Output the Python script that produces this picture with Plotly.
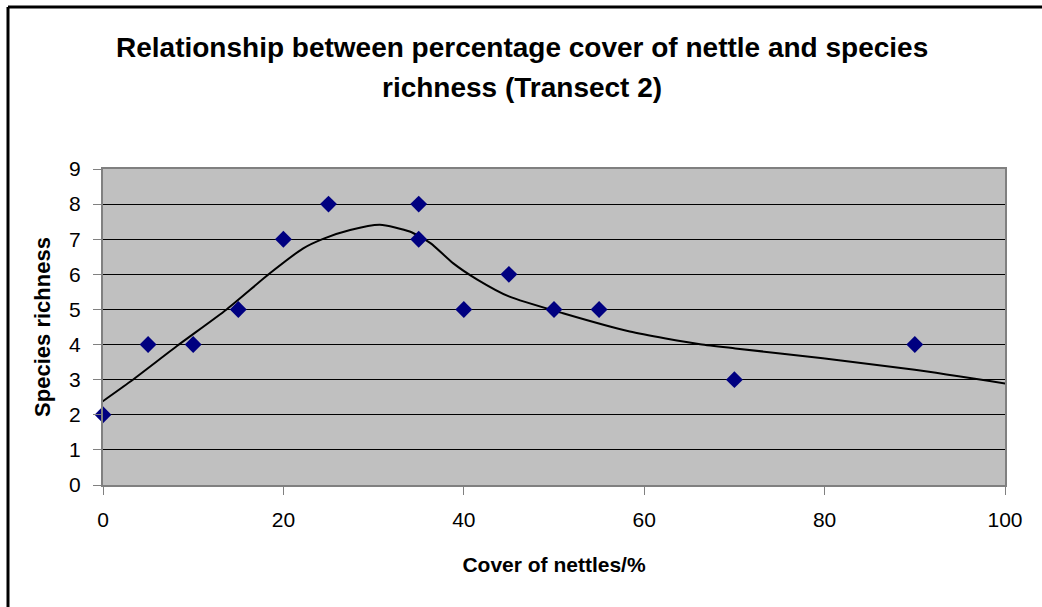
import plotly.graph_objects as go

# Quadrat survey: percentage nettle cover vs number of species
cover_pct = [0, 5, 10, 15, 20, 25, 35, 35, 40, 45, 50, 55, 70, 90]
species_richness = [2, 4, 4, 5, 7, 8, 8, 7, 5, 6, 5, 5, 3, 4]

# Hand-fitted trend curve through the scatter
trend_x = [-1.1, 3.0, 8.2, 13.7, 18.5, 22.2, 24.4, 27.4, 30.7, 34.0, 36.3,
           38.8, 41.5, 45.0, 51.0, 58.4, 66.2, 70.1, 79.8, 90.0, 100.3]
trend_y = [2.19, 2.94, 3.96, 5.0, 6.03, 6.74, 7.01, 7.26, 7.41, 7.22, 6.89,
           6.32, 5.85, 5.37, 4.89, 4.37, 4.01, 3.89, 3.61, 3.28, 2.88]

x_ticks = [0, 20, 40, 60, 80, 100]
y_ticks = [0, 1, 2, 3, 4, 5, 6, 7, 8, 9]

title_lines = ["Relationship between percentage cover of nettle and species",
               "richness (Transect 2)"]

FONT = "Liberation Sans, Arial, sans-serif"

fig = go.Figure()
fig.add_trace(go.Scatter(
    x=trend_x, y=trend_y, mode="lines",
    line=dict(color="black", width=2, shape="spline", smoothing=0.6),
    hoverinfo="skip", showlegend=False,
))
fig.add_trace(go.Scatter(
    x=cover_pct, y=species_richness, mode="markers",
    marker=dict(symbol="diamond", size=13, color="#000080",
                line=dict(width=0)),
    cliponaxis=False, showlegend=False,
))

W, H = 1042, 607
L, R, T, B = 103, 37, 169, 122
pw, ph = W - L - R, H - T - B

def px_x(p):
    return (p - L) / pw

def px_y(p):
    return (H - B - p) / ph

# Title lines as separate annotations for wider line spacing
for txt, ypix in zip(title_lines, [48, 88]):
    fig.add_annotation(
        text=f"<b>{txt}</b>", xref="paper", yref="paper",
        x=px_x(522), y=px_y(ypix), xanchor="center", yanchor="middle",
        showarrow=False, font=dict(family=FONT, size=28, color="black"),
    )

# Chart-area frame (left and top edges visible)
fig.add_shape(type="line", xref="paper", yref="paper",
              x0=px_x(8), x1=px_x(1045), y0=px_y(7), y1=px_y(7),
              line=dict(color="black", width=3))
fig.add_shape(type="line", xref="paper", yref="paper",
              x0=px_x(8), x1=px_x(8), y0=px_y(7), y1=px_y(610),
              line=dict(color="black", width=3))

fig.update_layout(
    width=W, height=H,
    margin=dict(l=L, r=R, t=T, b=B),
    paper_bgcolor="white", plot_bgcolor="#C0C0C0",
    font=dict(family=FONT, size=21, color="black"),
    showlegend=False,
)
fig.update_xaxes(
    range=[0, 100], tickvals=x_ticks, showgrid=False, zeroline=False,
    showline=True, linecolor="#808080", linewidth=2, mirror=True,
    ticks="outside", ticklen=8, tickcolor="#808080", tickwidth=1,
    tickfont=dict(size=21), ticklabelstandoff=7,
    title=dict(text="<b>Cover of nettles/%</b>", font=dict(size=21), standoff=27),
)
fig.update_yaxes(
    range=[0, 9], tickvals=y_ticks, showgrid=True, gridcolor="black",
    gridwidth=1, zeroline=False,
    showline=True, linecolor="#808080", linewidth=2, mirror=True,
    ticks="outside", ticklen=8, tickcolor="#808080", tickwidth=1,
    tickfont=dict(size=21), ticklabelstandoff=8,
    title=dict(text="<b>Species richness</b>", font=dict(size=22), standoff=12),
)

fig.write_html("out.html")
